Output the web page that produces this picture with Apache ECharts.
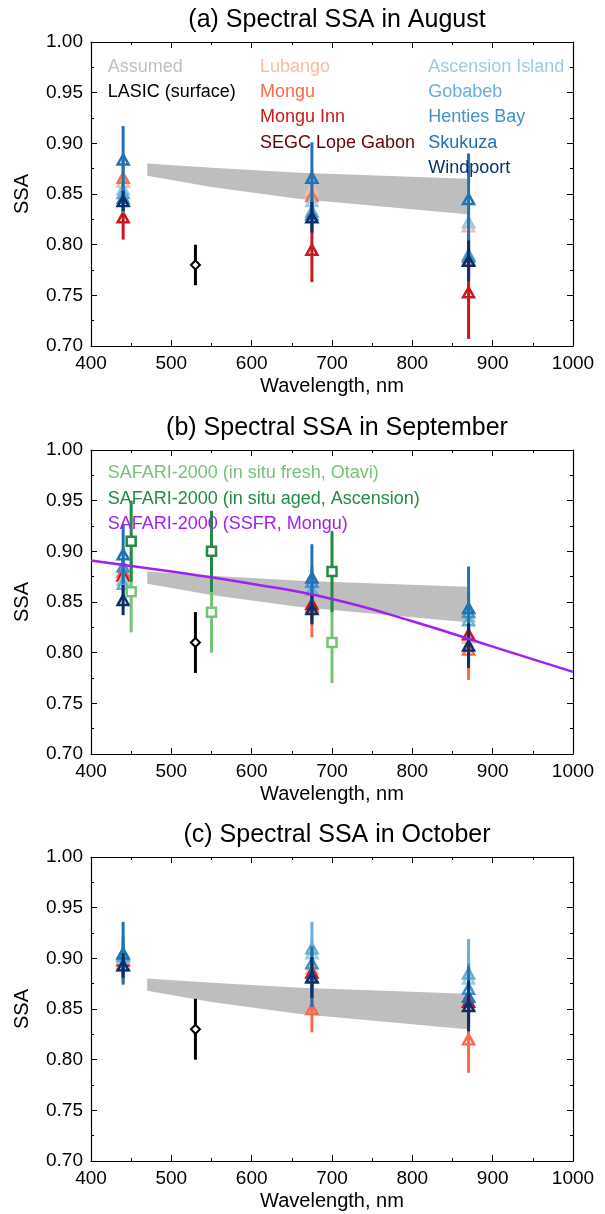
<!DOCTYPE html>
<html>
<head>
<meta charset="utf-8">
<script src="https://cdn.jsdelivr.net/npm/echarts@6/dist/echarts.min.js"></script>
<style>
html,body{margin:0;padding:0;background:#fff;}
#chart{width:605px;height:1214px;}
</style>
</head>
<body>
<div id="chart"></div>
<script>
// ---------------- DATA ----------------
const panelTitles = ['(a) Spectral SSA in August', '(b) Spectral SSA in September', '(c) Spectral SSA in October'];
const yTicks = [0.70, 0.75, 0.80, 0.85, 0.90, 0.95, 1.00];
const xTicks = [400, 500, 600, 700, 800, 900, 1000];

const aeronetWl = [440, 675, 870];
const sites = ['Lubango', 'Mongu', 'Mongu Inn', 'SEGC Lope Gabon', 'Ascension Island', 'Gobabeb', 'Henties Bay', 'Skukuza', 'Windpoort'];

// rows follow `sites`, columns follow `aeronetWl`
const ssaAug = [
  [0.862, 0.855, 0.818],
  [0.866, 0.848, 0.785],
  [0.827, 0.795, 0.753],
  null,
  [0.855, 0.843, 0.822],
  [0.851, 0.833, 0.790],
  [0.846, 0.830, 0.788],
  [0.884, 0.866, 0.845],
  [0.843, 0.827, 0.784]
];
const errAug = [
  [0.020, 0.020, 0.025],
  [0.020, 0.020, 0.020],
  [0.022, 0.032, 0.046],
  null,
  [0.015, 0.015, 0.020],
  [0.015, 0.015, 0.020],
  [0.015, 0.015, 0.020],
  [0.033, 0.035, 0.045],
  [0.010, 0.015, 0.020]
];
const ssaSep = [
  [0.878, 0.848, 0.815],
  [0.880, 0.845, 0.803],
  [0.876, 0.848, 0.818],
  null,
  [0.872, 0.866, 0.836],
  [0.868, 0.862, 0.832],
  [0.885, 0.870, 0.840],
  [0.897, 0.874, 0.844],
  [0.852, 0.843, 0.807]
];
const errSep = [
  [0.015, 0.020, 0.020],
  [0.012, 0.030, 0.030],
  [0.015, 0.015, 0.020],
  null,
  [0.015, 0.015, 0.020],
  [0.015, 0.015, 0.020],
  [0.015, 0.015, 0.020],
  [0.029, 0.033, 0.041],
  [0.015, 0.015, 0.022]
];
const ssaOct = [
  [0.895, 0.890, 0.855],
  [0.893, 0.850, 0.820],
  [0.898, 0.886, 0.857],
  null,
  [0.900, 0.905, 0.880],
  [0.902, 0.910, 0.885],
  [0.904, 0.895, 0.870],
  [0.905, 0.882, 0.862],
  [0.893, 0.881, 0.853]
];
const errOct = [
  [0.015, 0.015, 0.020],
  [0.017, 0.023, 0.033],
  [0.012, 0.015, 0.020],
  null,
  [0.015, 0.015, 0.020],
  [0.020, 0.026, 0.034],
  [0.015, 0.015, 0.025],
  [0.031, 0.030, 0.030],
  [0.012, 0.020, 0.025]
];

const lasicWl = 530;
const lasicSSA = [0.78, 0.81, 0.83];
const lasicErr = [0.02, 0.03, 0.03];

const bandWl = [470, 550, 660, 868];
const bandLow = [0.868, 0.857, 0.845, 0.830];
const bandHigh = [0.880, 0.876, 0.871, 0.865];

const safFreshWl = [450, 550, 700];
const safFreshSSA = [0.86, 0.84, 0.81];
const safFreshErr = [0.04, 0.04, 0.04];
const safAgedWl = [450, 550, 700];
const safAgedSSA = [0.91, 0.90, 0.88];
const safAgedErr = [0.04, 0.04, 0.04];

const ssfrWl = [400, 500, 600, 700, 800, 900, 1000];
const ssfrSSA = [0.891, 0.880, 0.868, 0.853, 0.831, 0.806, 0.781];

// ---------------- STYLE ----------------
const siteColors = ['#fcbba1', '#fb6a4a', '#cb181d', '#67000d', '#9ecae1', '#6baed6', '#4292c6', '#2171b5', '#08306b'];
const FONT = '"Liberation Sans", Arial, Helvetica, sans-serif';
const gridTops = [42, 450, 857];
const gridH = 304;
const gridLeft = 91, gridW = 482;

const monthSSA = [ssaAug, ssaSep, ssaOct];
const monthErr = [errAug, errSep, errOct];

const grids = [], xAxes = [], yAxes = [], series = [], titles = [], graphics = [];

function errBarSeries(gi, color, data, width, z) {
  return {
    type: 'custom', xAxisIndex: gi * 2, yAxisIndex: gi * 2, z: z, silent: true,
    encode: { x: 0, y: [1, 2] },
    data: data,
    renderItem: function (params, api) {
      const p1 = api.coord([api.value(0), api.value(1)]);
      const p2 = api.coord([api.value(0), api.value(2)]);
      return { type: 'line', shape: { x1: p1[0], y1: p1[1], x2: p2[0], y2: p2[1] },
        style: { stroke: color, lineWidth: width } };
    }
  };
}
function markerSeries(gi, color, data, symbol, size, bw, z, fill) {
  return {
    type: 'scatter', xAxisIndex: gi * 2, yAxisIndex: gi * 2, z: z, silent: true,
    symbol: symbol, symbolSize: size, data: data,
    itemStyle: { color: fill || 'rgba(255,255,255,0)', borderColor: color, borderWidth: bw, opacity: 1 }
  };
}

for (let g = 0; g < 3; g++) {
  grids.push({ left: gridLeft, top: gridTops[g], width: gridW, height: gridH });
  titles.push({ text: panelTitles[g], left: gridLeft + gridW / 2, top: gridTops[g] - 39, textAlign: 'center',
    textStyle: { fontFamily: FONT, fontSize: 25, fontWeight: 'normal', color: '#000' } });
  const tickCommon = { show: true, inside: true, length: 6, lineStyle: { color: '#000', width: 1 } };
  const minorCommon = { show: true, splitNumber: 2, length: 3, lineStyle: { color: '#000', width: 1 } };
  xAxes.push({
    type: 'value', gridIndex: g, position: 'bottom', min: xTicks[0], max: xTicks[xTicks.length - 1], interval: 100,
    axisLine: { show: true, onZero: false, lineStyle: { color: '#000', width: 1.2 } },
    axisTick: tickCommon, minorTick: minorCommon, splitLine: { show: false },
    axisLabel: { show: true, margin: 8, fontFamily: FONT, fontSize: 19, color: '#000', formatter: v => String(v) },
    name: 'Wavelength, nm', nameLocation: 'middle', nameGap: 30,
    nameTextStyle: { fontFamily: FONT, fontSize: 20, color: '#000' }
  });
  xAxes.push({
    type: 'value', gridIndex: g, position: 'top', min: xTicks[0], max: xTicks[xTicks.length - 1], interval: 100,
    axisLine: { show: true, onZero: false, lineStyle: { color: '#000', width: 1.2 } },
    axisTick: tickCommon, minorTick: minorCommon, splitLine: { show: false }, axisLabel: { show: false }
  });
  yAxes.push({
    type: 'value', gridIndex: g, position: 'left', min: yTicks[0], max: yTicks[yTicks.length - 1], interval: 0.05,
    axisLine: { show: true, onZero: false, lineStyle: { color: '#000', width: 1.2 } },
    axisTick: tickCommon, minorTick: minorCommon, splitLine: { show: false },
    axisLabel: { show: true, margin: 8, fontFamily: FONT, fontSize: 19, color: '#000', formatter: v => v.toFixed(2) },
    name: 'SSA', nameLocation: 'middle', nameGap: 59, nameRotate: 90,
    nameTextStyle: { fontFamily: FONT, fontSize: 20, color: '#000' }
  });
  yAxes.push({
    type: 'value', gridIndex: g, position: 'right', min: yTicks[0], max: yTicks[yTicks.length - 1], interval: 0.05,
    axisLine: { show: true, onZero: false, lineStyle: { color: '#000', width: 1.2 } },
    axisTick: tickCommon, minorTick: minorCommon, splitLine: { show: false }, axisLabel: { show: false }
  });

  // Assumed band (polygon through the axis scales)
  series.push({
    type: 'custom', xAxisIndex: g * 2, yAxisIndex: g * 2, z: 2, silent: true,
    encode: { x: 0, y: [1, 2] },
    data: bandWl.map((w, i) => [w, bandLow[i], bandHigh[i]]),
    renderItem: function (params, api) {
      if (params.dataIndex !== 0) return null;
      const pts = [];
      for (let i = 0; i < bandWl.length; i++) pts.push(api.coord([bandWl[i], bandHigh[i]]));
      for (let i = bandWl.length - 1; i >= 0; i--) pts.push(api.coord([bandWl[i], bandLow[i]]));
      return { type: 'polygon', shape: { points: pts }, style: { fill: '#bebebe' } };
    }
  });

  // LASIC
  series.push(errBarSeries(g, '#000', [[lasicWl, lasicSSA[g] - lasicErr[g], lasicSSA[g] + lasicErr[g]]], 3, 3));
  series.push(markerSeries(g, '#000', [[lasicWl, lasicSSA[g]]], 'diamond', 9, 2, 3, '#fff'));

  // AERONET sites
  const ssa = monthSSA[g], err = monthErr[g];
  sites.forEach((s, i) => {
    if (!ssa[i]) return;
    const eb = aeronetWl.map((w, k) => [w, ssa[i][k] - err[i][k], ssa[i][k] + err[i][k]]);
    const pts = aeronetWl.map((w, k) => [w, ssa[i][k]]);
    series.push(errBarSeries(g, siteColors[i], eb, 3, 4 + i));
    series.push(markerSeries(g, siteColors[i], pts, 'triangle', [11, 10], 2.5, 4 + i));
  });
}

// SAFARI-2000 in panel (b)
series.push(errBarSeries(1, '#74c476', safFreshWl.map((w, i) => [w, safFreshSSA[i] - safFreshErr[i], safFreshSSA[i] + safFreshErr[i]]), 3, 20));
series.push(markerSeries(1, '#74c476', safFreshWl.map((w, i) => [w, safFreshSSA[i]]), 'rect', 9, 2.5, 20, '#fff'));
series.push(errBarSeries(1, '#238b45', safAgedWl.map((w, i) => [w, safAgedSSA[i] - safAgedErr[i], safAgedSSA[i] + safAgedErr[i]]), 3, 21));
series.push(markerSeries(1, '#238b45', safAgedWl.map((w, i) => [w, safAgedSSA[i]]), 'rect', 9, 2.5, 21, '#fff'));
series.push({
  type: 'line', xAxisIndex: 2, yAxisIndex: 2, z: 22, silent: true, smooth: true, symbol: 'none',
  lineStyle: { color: '#a020f0', width: 2.5 },
  data: ssfrWl.map((w, i) => [w, ssfrSSA[i]])
});

// Legend texts
function legendText(x, y, text, color) {
  graphics.push({ type: 'text', x: x, y: y, z: 100, silent: true,
    style: { text: text, fill: color, font: '18px ' + FONT, verticalAlign: 'middle', align: 'left' } });
}
const rowA = 66.7, rowStep = 25.4;
legendText(107.7, rowA, 'Assumed', '#c0c0c0');
legendText(107.7, rowA + rowStep, 'LASIC (surface)', '#000');
[0, 1, 2, 3].forEach((k) => legendText(260, rowA + rowStep * k, sites[k], siteColors[k]));
[4, 5, 6, 7, 8].forEach((k, j) => legendText(428.3, rowA + rowStep * j, sites[k], siteColors[k]));
const rowB = 473.3;
legendText(107.7, rowB, 'SAFARI-2000 (in situ fresh, Otavi)', '#74c476');
legendText(107.7, rowB + rowStep, 'SAFARI-2000 (in situ aged, Ascension)', '#238b45');
legendText(107.7, rowB + rowStep * 2, 'SAFARI-2000 (SSFR, Mongu)', '#a020f0');

const chart = echarts.init(document.getElementById('chart'), null, { renderer: 'canvas' });
chart.setOption({
  animation: false,
  backgroundColor: '#fff',
  title: titles,
  grid: grids,
  xAxis: xAxes,
  yAxis: yAxes,
  series: series,
  graphic: graphics
});
</script>
</body>
</html>
